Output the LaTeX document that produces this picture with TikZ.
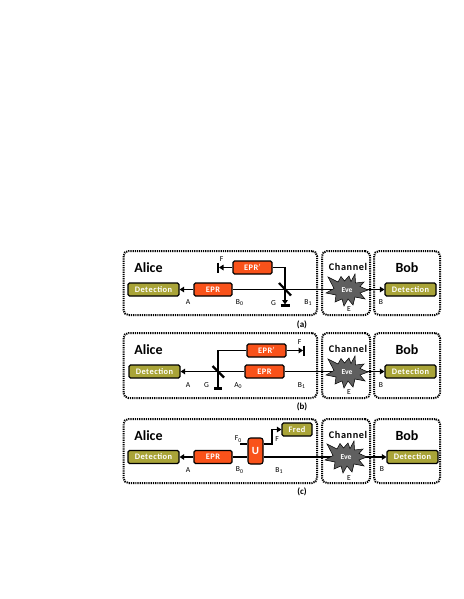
\documentclass[tikz,border=0pt]{standalone}
\usepackage{fontspec}
\setmainfont{Carlito}
\newfontfamily\spaced[LetterSpace=6]{Carlito}
\usetikzlibrary{arrows.meta,calc}
\definecolor{det}{HTML}{A9A438}
\definecolor{epr}{HTML}{F9521A}
\definecolor{evec}{HTML}{5F5F5F}
\newcommand{\sbs}[1]{\raisebox{-1.6pt}{\fontsize{5.8}{6}\selectfont #1}}
\tikzset{
  x=1pt,y=-1pt,
  boxy/.style={draw=black,line width=1.1pt,rounded corners=1.5pt,inner sep=0pt,text=white,font=\spaced\fontsize{8.4}{9}\selectfont\bfseries,anchor=center},
  detbox/.style={boxy,fill=det,minimum width=51pt,minimum height=13pt},
  eprbox/.style={boxy,fill=epr,minimum width=38pt,minimum height=13pt},
  frame/.style={draw=black,line width=2pt,dash pattern=on 1.2pt off 1pt,rounded corners=5pt,inner sep=0pt,fill=none},
  wire/.style={draw=black,line width=1.4pt},
  arr/.style={wire,-{Triangle[length=4.5pt,width=5.5pt]}},
  bar/.style={draw=black,line width=2.4pt},
  mirror/.style={draw=black,line width=2.2pt},
  lab/.style={font=\fontsize{7.6}{8}\selectfont,inner sep=0pt,text=black},
  title/.style={font=\fontsize{14}{15}\selectfont\bfseries,inner sep=0pt,text=black},
  chan/.style={font=\spaced\fontsize{10.2}{11}\selectfont\bfseries,inner sep=0pt,text=black},
  capt/.style={font=\fontsize{9}{10}\selectfont\bfseries,inner sep=0pt,text=black},
  evetxt/.style={font=\fontsize{7.6}{8}\selectfont\bfseries,inner sep=0pt,text=white},
}
% frames: #1 top, #2 bottom, #3 name prefix
\newcommand{\frames}[3]{%
  \node[frame,minimum width=193.5pt,minimum height=#2pt-#1pt] (#3alice) at (220.25,{(#1+#2)/2}) {};
  \node[frame,minimum width=48pt,minimum height=#2pt-#1pt] (#3chan) at (346,{(#1+#2)/2}) {};
  \node[frame,minimum width=66pt,minimum height=#2pt-#1pt] (#3bob) at (407,{(#1+#2)/2}) {};
  \node[title] (#3talice) at (148.5,{#1+17}) {Alice};
  \node[title] (#3tbob) at (407,{#1+17}) {Bob};
  \node[chan] (#3tchan) at (348,{#1+15.5}) {Channel};
}
% star centred on (#1,#2), text and name #3
\newcommand{\evestar}[3]{%
  \fill[evec,draw=black,line width=.5pt,shift={(#1,#2)}]
    (-19,-13)--(-9,-8)--(-6,-13.5)--(-2.5,-9)--(2,-14)--(4,-8.5)--(8,-16)--(8.5,-7)
    --(17,-8)--(13,-3.5)--(21,0)--(13,3)--(18,9)--(8,7)--(6,15)--(1,9)--(-3,16)--(-5,9)
    --(-12,12)--(-11,5)--(-21,3)--(-13,-1.5)--cycle;
  \node[evetxt] (#3) at (#1,#2) {Eve};
}
\begin{document}
\begin{tikzpicture}
\useasboundingbox (0,0) rectangle (463,599);
\fill[white] (0,0) rectangle (463,599);

%% Panel (a)
\frames{251}{315}{a}
\coordinate (aeve) at (347,289.5);
\node[detbox] (adet) at (153.5,289.5) {Detection};
\node[eprbox] (aepr) at (213,289.5) {EPR};
\node[eprbox,minimum width=39pt] (aeprp) at (252.5,267.5) {EPR$'$};
\node[detbox] (abdet) at (410.5,289.5) {Detection};
\coordinate (afb) at (219,267.5);
\coordinate (agb) at (285,304.5);
\draw[arr] (aepr) -- (adet);
\draw[wire] (aepr) -- (aeve);
\draw[arr] (aeve) -- (abdet);
\draw[arr] (aeprp) -- (afb);
\draw[arr] (aeprp.east) -| (agb);
\draw[bar] (218,262.5) -- (218,272.5);
\draw[bar] (280.5,305.5) -- (289.5,305.5);
\draw[mirror] (279,283) -- (291,295.5);
\evestar{347}{290}{aevenode}
\node[lab] (lF) at (221.5,259) {F};
\node[lab] (lA) at (188,302.5) {A};
\node[lab] (lB0) at (239.5,302.5) {B\sbs{0}};
\node[lab] (lG) at (273.5,303) {G};
\node[lab] (lB1) at (308,302.5) {B\sbs{1}};
\node[lab] (lE) at (349,309.5) {E};
\node[lab] (lB) at (381,302) {B};
\node[capt] (capa) at (302,325) {(a)};

%% Panel (b)
\frames{333}{398}{b}
\coordinate (beve) at (347,371.5);
\node[detbox] (bdet) at (154.5,371.5) {Detection};
\node[eprbox,minimum width=39pt] (bepr) at (264.5,371.5) {EPR};
\node[eprbox,minimum width=39pt] (beprp) at (266.5,350.5) {EPR$'$};
\node[detbox] (bbdet) at (410.5,371.5) {Detection};
\coordinate (bfb) at (303,350.5);
\coordinate (bgb) at (218,388);
\draw[arr] (bepr) -- (bdet);
\draw[wire] (bepr) -- (beve);
\draw[arr] (beve) -- (bbdet);
\draw[arr] (beprp) -- (bfb);
\draw[wire] (beprp.west) -| (bgb);
\draw[bar] (304,345.5) -- (304,355.5);
\draw[bar] (214,388.5) -- (222,388.5);
\draw[mirror] (212.5,366) -- (224,377.5);
\evestar{347}{372}{bevenode}
\node[lab] (mF) at (299.5,342) {F};
\node[lab] (mA) at (188,385) {A};
\node[lab] (mG) at (206.5,385) {G};
\node[lab] (mA0) at (238,385.5) {A\sbs{0}};
\node[lab] (mB1) at (301.5,385.5) {B\sbs{1}};
\node[lab] (mE) at (349,392.5) {E};
\node[lab] (mB) at (381,385) {B};
\node[capt] (capb) at (302,407) {(b)};

%% Panel (c)
\frames{419}{483}{c}
\coordinate (ceve) at (347,457);
\node[detbox] (cdet) at (153.5,457) {Detection};
\node[eprbox] (cepr) at (213,457) {EPR};
\node[boxy,fill=epr,minimum width=15pt,minimum height=26pt,font=\fontsize{11}{12}\selectfont\bfseries,rounded corners=2.5pt] (cu) at (255.5,451) {U};
\node[detbox,minimum width=30pt] (cfred) at (297,429.5) {Fred};
\node[detbox] (cbdet) at (412.5,457) {Detection};
\coordinate (cf0) at (240,444);
\draw[arr] (cepr) -- (cdet);
\draw[wire] (cepr) -- (cu.west |- cepr);
\draw[wire] (cu.east |- cepr) -- (ceve);
\draw[arr] (ceve) -- (cbdet);
\draw[wire] (cf0) -- (cf0 -| cu.west);
\draw[arr] (cu.east |- cf0) -- (272,444) -- (272,429.5) -- (cfred);
\evestar{346}{457}{cevenode}
\node[lab] (nF0) at (238,439) {F\sbs{0}};
\node[lab] (nF) at (277,439) {F};
\node[lab] (nA) at (188,470) {A};
\node[lab] (nB0) at (239.5,470) {B\sbs{0}};
\node[lab] (nB1) at (279,470.5) {B\sbs{1}};
\node[lab] (nE) at (349,478) {E};
\node[lab] (nB) at (382,469) {B};
\node[capt] (capc) at (302,492) {(c)};
\end{tikzpicture}
\end{document}
